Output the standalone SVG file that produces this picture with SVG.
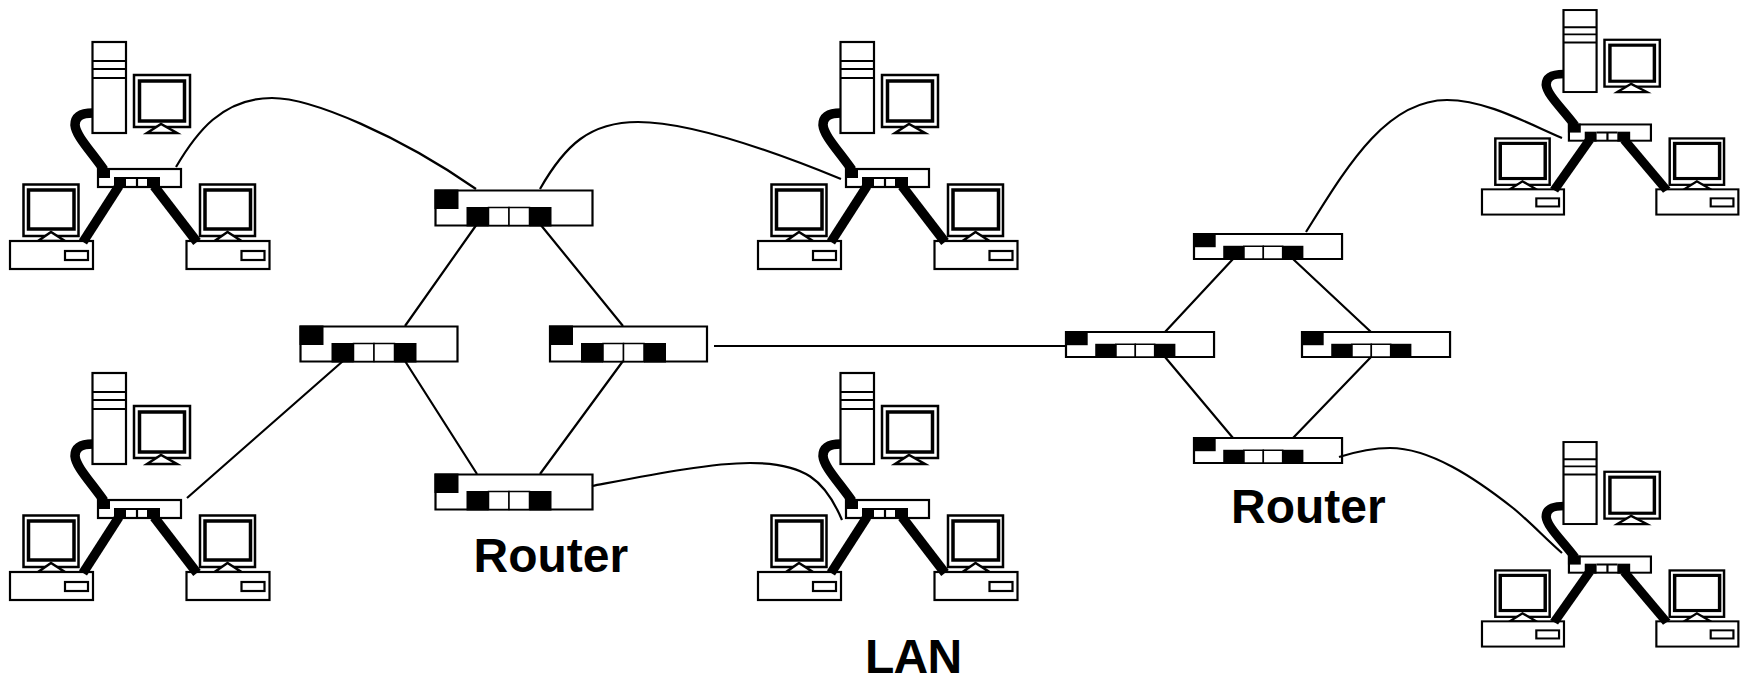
<svg xmlns="http://www.w3.org/2000/svg" xmlns:xlink="http://www.w3.org/1999/xlink" width="1746" height="677" viewBox="0 0 1746 677">
<style>
.b{fill:#fff;stroke:#000;stroke-width:2.200}
.m{fill:#fff;stroke:#000;stroke-width:2.500}
.i{fill:#fff;stroke:#000;stroke-width:3.500}
.k{fill:#000;stroke:none}
.r rect{vector-effect:non-scaling-stroke}
.w{fill:none;stroke:#000;stroke-width:2.200}
.c{fill:none;stroke:#000;stroke-width:9.500}
.t{font-family:"Liberation Sans",Arial,sans-serif;font-weight:700;font-size:48px;fill:#000}
</style>
<defs>
<g id="router" class="r">
<rect class="b" x="0" y="0" width="157" height="35"/>
<rect class="k" x="-1" y="-1" width="24" height="19.500"/>
<rect class="k" x="31" y="16.500" width="22" height="19.500"/>
<rect class="k" x="94" y="16.500" width="22" height="19.500"/>
<rect class="b" x="53" y="17" width="20.500" height="18" style="stroke-width:1.500"/>
<rect class="b" x="73.500" y="17" width="20.500" height="18" style="stroke-width:1.500"/>
</g>
<g id="pc">
<rect class="m" x="23.500" y="184.500" width="55" height="51.500"/>
<rect class="i" x="28.500" y="190" width="45.500" height="39"/>
<path class="m" d="M38 241 51 232 65 241z"/>
<rect class="b" x="10" y="241" width="83" height="28"/>
<rect class="b" x="65" y="251" width="23" height="9"/>
</g>
<g id="lan">
<rect class="b" x="92.500" y="42" width="33.500" height="91"/>
<path class="w" d="M92.500 61H126M92.500 69H126M92.500 78H126"/>
<rect class="m" x="134" y="75" width="56" height="52"/>
<rect class="i" x="139.500" y="81" width="45" height="40"/>
<path class="m" d="M147 133 161 124 177 133z"/>
<use href="#pc"/>
<use href="#pc" x="176.500"/>
<rect class="b" x="98" y="169" width="83" height="18"/>
<rect class="k" x="97" y="168" width="13" height="10"/>
<rect class="k" x="114" y="177" width="12" height="11"/>
<rect class="k" x="147" y="177" width="13" height="11"/>
<path class="w" d="M137 178V187M126 178H147"/>
</g>
<g id="cables">
<path class="c" d="M93 113C80 113 75 117 75 125C76 136 90 150 104 170"/>
<path class="c" d="M119 186 83 242"/>
<path class="c" d="M154 186 197 242"/>
</g>
</defs>
<g id="nodes">
<g id="lan-top-left"><use href="#lan"/></g>
<g id="lan-top-middle"><use href="#lan" transform="translate(748 0)"/></g>
<g id="lan-bottom-left"><use href="#lan" transform="translate(0 331)"/></g>
<g id="lan-bottom-middle"><use href="#lan" transform="translate(748 331)"/></g>
<g id="lan-top-right"><use href="#lan" transform="matrix(.988 0 0 .901 1472.100 -27.800)"/></g>
<g id="lan-bottom-right"><use href="#lan" transform="matrix(.988 0 0 .901 1472.100 404.200)"/></g>
<g id="router-a-top"><use href="#router" transform="translate(435.500 190.500)"/></g>
<g id="router-a-left"><use href="#router" transform="translate(300.500 326.500)"/></g>
<g id="router-a-right"><use href="#router" transform="translate(550 326.500)"/></g>
<g id="router-a-bottom"><use href="#router" transform="translate(435.500 474.500)"/></g>
<g id="router-b-top"><use href="#router" transform="translate(1194 234) scale(.943 .714)"/></g>
<g id="router-b-left"><use href="#router" transform="translate(1066 332) scale(.943 .714)"/></g>
<g id="router-b-right"><use href="#router" transform="translate(1302 332) scale(.943 .714)"/></g>
<g id="router-b-bottom"><use href="#router" transform="translate(1194 438) scale(.943 .714)"/></g>
</g>
<g id="connectors">
<use href="#cables"/>
<use href="#cables" transform="translate(748 0)"/>
<use href="#cables" transform="translate(0 331)"/>
<use href="#cables" transform="translate(748 331)"/>
<use href="#cables" transform="matrix(.988 0 0 .901 1472.100 -27.800)"/>
<use href="#cables" transform="matrix(.988 0 0 .901 1472.100 404.200)"/>
<path class="w" d="M176 167C196 133 222 98 272 98C312 98 400 136 476 189"/>
<path class="w" d="M540 189C565 145 590 122 638 122C690 122 770 150 841 179"/>
<path class="w" d="M592 486C650 475 710 463 750 463C805 463 825 480 842 520"/>
<path class="w" d="M1306 232C1345 170 1385 100 1447 100C1485 100 1525 122 1562 138"/>
<path class="w" d="M1339 457C1355 452 1373 448 1390 448C1430 448 1475 478 1513 508C1530 522 1545 538 1562 553"/>
<path class="w" d="M477 224 405 326M540 224 623 326M405 361 477 474M623 361 540 474M343 361 187 498M714 346H1066"/>
<path class="w" d="M1233 259 1165 332M1293 259 1371 332M1165 357 1233 438M1371 357 1293 438"/>
</g>
<g id="labels">
<text class="t" x="473.500" y="572">Router</text>
<text class="t" x="1231" y="523">Router</text>
<text class="t" x="865" y="673" style="letter-spacing:-.8px">LAN</text>
</g>
</svg>
